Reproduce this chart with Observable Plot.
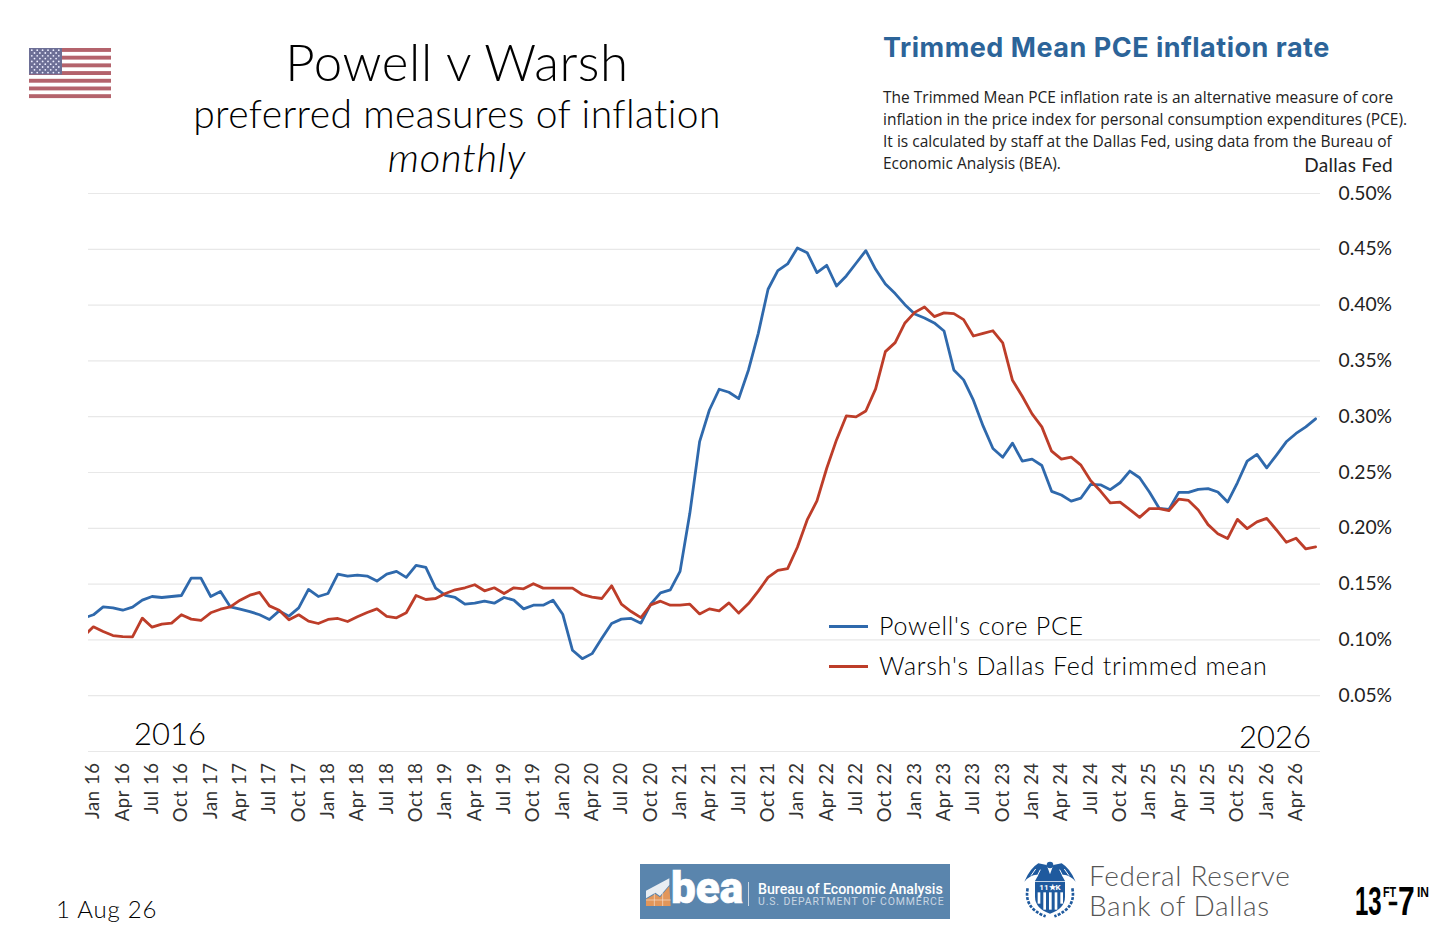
<!DOCTYPE html>
<html><head><meta charset="utf-8">
<script src="https://cdn.jsdelivr.net/npm/d3@7"></script>
<script src="https://cdn.jsdelivr.net/npm/@observablehq/plot@0.6"></script>
<style>
html,body{margin:0;padding:0;background:#fff;width:1456px;height:951px;overflow:hidden}
#chart{position:absolute;left:0;top:0}
#chart svg g[aria-label="x-axis tick label"] text{letter-spacing:.55px}
.t{position:absolute;white-space:nowrap;line-height:1;color:#111;font-family:Lato,sans-serif}
.c{transform:translateX(-50%)}
.r{transform:translateX(-100%)}
.k{position:absolute;height:3px}
svg.deco{position:absolute;overflow:visible}
</style></head><body>
<div id="chart"></div>
<script>
// First entry of each series is Dec 15, cut off by the left edge of the frame
const powellCorePCE=[0.1195,0.1225,0.1296,0.1287,0.1266,0.1293,0.1356,0.1389,0.138,0.1389,0.1398,0.1554,0.1554,0.1389,0.1434,0.1296,0.1275,0.1254,0.1225,0.1183,0.126,0.1213,0.1287,0.1452,0.1389,0.1416,0.159,0.1572,0.1581,0.1572,0.1527,0.159,0.1614,0.156,0.1668,0.165,0.1464,0.1398,0.138,0.132,0.1329,0.1347,0.1329,0.138,0.1356,0.1278,0.1311,0.1311,0.1356,0.123,0.0907,0.0832,0.0877,0.1015,0.1147,0.1186,0.1192,0.115,0.132,0.1422,0.1449,0.1614,0.2134,0.2777,0.306,0.3246,0.3219,0.3162,0.3419,0.3747,0.4142,0.4309,0.4369,0.4512,0.447,0.4291,0.4357,0.4171,0.4261,0.4375,0.4488,0.4321,0.4189,0.4103,0.4004,0.392,0.3885,0.384,0.3768,0.3419,0.333,0.3148,0.2915,0.2715,0.2637,0.2763,0.2602,0.262,0.2563,0.2331,0.2298,0.2244,0.2271,0.2393,0.239,0.2346,0.2408,0.2513,0.2453,0.2325,0.2179,0.217,0.2322,0.2322,0.2349,0.2355,0.2325,0.2235,0.2408,0.2602,0.2662,0.2542,0.2656,0.2775,0.285,0.2909,0.2981];
const warshTrimmedMean=[0.1033,0.1117,0.1075,0.1039,0.103,0.1027,0.1195,0.1114,0.1141,0.115,0.1225,0.1186,0.1174,0.1243,0.1275,0.1296,0.1356,0.1401,0.1425,0.1305,0.1266,0.118,0.1225,0.1168,0.1147,0.1183,0.1192,0.1165,0.1207,0.1246,0.1278,0.121,0.1198,0.1243,0.1398,0.1362,0.1371,0.1416,0.1449,0.1467,0.1494,0.144,0.1467,0.1416,0.1467,0.1458,0.1503,0.1464,0.1464,0.1464,0.1464,0.1407,0.1383,0.1371,0.1485,0.132,0.1254,0.12,0.1314,0.1347,0.1311,0.1311,0.132,0.1233,0.1278,0.126,0.1332,0.124,0.1326,0.1437,0.156,0.1623,0.1638,0.183,0.2075,0.2245,0.2538,0.2792,0.3007,0.2998,0.3051,0.3249,0.3583,0.3664,0.384,0.3935,0.3983,0.3897,0.393,0.3924,0.387,0.3723,0.3747,0.377,0.3662,0.3326,0.3183,0.3025,0.2909,0.2691,0.262,0.2638,0.2566,0.2426,0.2334,0.2227,0.2235,0.2167,0.2098,0.2176,0.2176,0.2158,0.2262,0.225,0.2164,0.2033,0.1952,0.1908,0.208,0.1997,0.2057,0.2089,0.1985,0.1875,0.1911,0.1815,0.1833];
const tickLabels=["Jan 16","Apr 16","Jul 16","Oct 16","Jan 17","Apr 17","Jul 17","Oct 17","Jan 18","Apr 18","Jul 18","Oct 18","Jan 19","Apr 19","Jul 19","Oct 19","Jan 20","Apr 20","Jul 20","Oct 20","Jan 21","Apr 21","Jul 21","Oct 21","Jan 22","Apr 22","Jul 22","Oct 22","Jan 23","Apr 23","Jul 23","Oct 23","Jan 24","Apr 24","Jul 24","Oct 24","Jan 25","Apr 25","Jul 25","Oct 25","Jan 26","Apr 26"];
const yTicks=[0.05,0.10,0.15,0.20,0.25,0.30,0.35,0.40,0.45,0.50];
const gridValues=[0,...yTicks];

const row=(v,i)=>({m:i-1,v});
const plot=Plot.plot({
  width:1456,height:951,
  marginLeft:88,marginRight:136,marginTop:193,marginBottom:200,
  style:{background:"transparent",fontFamily:"Lato,sans-serif",overflow:"visible"},
  x:{type:"linear",domain:[-0.5,125.5]},
  y:{type:"linear",domain:[0,0.5]},
  marks:[
    Plot.gridY(gridValues,{stroke:"#e8e8e8",strokeOpacity:1,strokeWidth:1.2}),
    Plot.axisY(yTicks,{anchor:"right",tickSize:0,tickPadding:18,fontSize:19.3,fill:"#222",label:null,tickFormat:d=>d.toFixed(2)+"%"}),
    Plot.axisX(tickLabels.map((_,i)=>i*3),{anchor:"bottom",tickSize:0,tickPadding:11,tickRotate:-90,fontSize:18.5,fill:"#333",label:null,tickFormat:d=>tickLabels[d/3]}),
    Plot.line(powellCorePCE.map(row),{x:"m",y:"v",stroke:"#2f69ac",strokeWidth:2.8,clip:true}),
    Plot.line(warshTrimmedMean.map(row),{x:"m",y:"v",stroke:"#bd3d29",strokeWidth:2.8,clip:true})
  ]
});
document.getElementById("chart").append(plot);

const add=(txt,left,top,size,extra="",cls="")=>{const d=document.createElement("div");d.className="t "+cls;d.style.cssText=`left:${left}px;top:${top}px;font-size:${size}px;${extra}`;d.textContent=txt;document.body.append(d);return d;};
add("Powell v Warsh",457,36,51,"font-weight:300;color:#000;letter-spacing:.6px","c");
add("preferred measures of inflation",457,94,39,"font-weight:300;color:#000;letter-spacing:.4px","c");
add("monthly",457,137,40,"font-weight:300;font-style:italic;color:#000;letter-spacing:.7px","c");
add("Trimmed Mean PCE inflation rate",883,34,27,"font-family:Inter;font-weight:700;color:#2c6499;letter-spacing:.5px");
["The Trimmed Mean PCE inflation rate is an alternative measure of core","inflation in the price index for personal consumption expenditures (PCE).","It is calculated by staff at the Dallas Fed, using data from the Bureau of","Economic Analysis (BEA)."].forEach((s,i)=>add(s,883,89.5+i*22,15.5,"font-family:'Open Sans';color:#222"));
add("Dallas Fed",1393,155,19,"color:#222;letter-spacing:.3px","r");
add("2016",134,718,31,"font-weight:300;color:#000");
add("2026",1239,721,31,"font-weight:300;color:#000");
add("1 Aug 26",56,897,24,"font-weight:300;color:#000;letter-spacing:.8px");
[["Powell's core PCE","#2f69ac",626],["Warsh's Dallas Fed trimmed mean","#bd3d29",666]].forEach(([s,col,y])=>{
  const k=document.createElement("div");k.className="k";k.style.cssText=`left:829px;top:${y-1}px;width:39px;background:${col}`;document.body.append(k);
  add(s,879,y-13,25,"font-weight:300;color:#000;letter-spacing:.75px");
});

// Flag
(function(){
  const s=d3.select("body").append("svg").attr("class","deco").style("left","29px").style("top","48px").attr("width",82).attr("height",49);
  for(let i=0;i<7;i++)s.append("rect").attr("x",0).attr("y",i*7.7).attr("width",82).attr("height",3.9).attr("fill","#b4636c");
  s.append("rect").attr("width",33).attr("height",26.5).attr("fill","#6d6f96");
  for(let r=0;r<9;r++)for(let c=0;c<(r%2?5:6);c++)s.append("circle").attr("cx",2.8+c*5.4+(r%2?2.7:0)).attr("cy",2.2+r*2.8).attr("r",0.9).attr("fill","#eef");
})();

// BEA logo
(function(){
  const b=document.createElement("div");b.style.cssText="position:absolute;left:640px;top:864px;width:310px;height:55px;background:#5a85ad";document.body.append(b);
  const s=d3.select("body").append("svg").attr("class","deco").style("left","636px").style("top","860px").attr("width",120).attr("height",62).attr("viewBox","0 0 360 186");
  s.append("polygon").attr("points","30,92 100,55 100,75 72,108 58,98 30,115").attr("fill","#e9eef3");
  s.append("polygon").attr("points","30,118 58,102 72,112 100,78 104,138 30,138").attr("fill","#e2965a");
  s.append("path").attr("d","M30 120H104M55 100V138M80 95V138").attr("stroke","#f6e2d2").attr("stroke-width",2).attr("fill","none");
  add("bea",671,866,44,"font-family:Roboto;font-weight:900;color:#fff;-webkit-text-stroke:.6px #fff");
  b.insertAdjacentHTML("beforeend",'<div style="position:absolute;left:108px;top:18px;width:1px;height:24px;background:#cbd8e4"></div>');
  add("Bureau of Economic Analysis",758,882,14.2,"font-family:Roboto;font-weight:500;color:#fff;line-height:14px");
  add("U.S. DEPARTMENT OF COMMERCE",758,896.5,10.5,"font-family:Roboto;color:#c9d6e2;letter-spacing:.85px");
})();

// Dallas Fed seal and name
(function(){
  const blue="#1f5a9e";
  const s=d3.select("body").append("svg").attr("class","deco").style("left","1015px").style("top","855px").attr("width",70).attr("height",70).attr("viewBox","0 0 210 210");
  s.append("path").attr("d","M105 58L95 30L70 25Q45 40 28 80Q50 56 70 60L60 78H150L140 60Q160 56 182 80Q165 40 140 25L115 30Z").attr("fill",blue);
  s.append("circle").attr("cx",105).attr("cy",30).attr("r",10).attr("fill",blue);
  s.append("path").attr("d","M62 42L48 62M76 44L66 64M148 42L162 62M134 44L144 64").attr("stroke","#fff").attr("stroke-width",3);
  s.append("path").attr("d","M60 80H150V125Q150 160 105 176Q60 160 60 125Z").attr("fill",blue);
  for(let i=0;i<5;i++)s.append("rect").attr("x",68+i*17).attr("y",112).attr("width",8).attr("height",i==0||i==4?34:52).attr("fill","#fff");
  s.append("text").attr("x",105).attr("y",104).attr("text-anchor","middle").attr("font-size",24).attr("font-family","Roboto").attr("font-weight",700).attr("fill","#fff").text("11★K");
  s.append("path").attr("d","M38 100Q26 160 92 184M172 100Q184 160 118 184").attr("stroke",blue).attr("stroke-width",8).attr("stroke-dasharray","9 4").attr("fill","none");
  add("Federal Reserve",1089,860.5,28,"font-weight:300;color:#555;letter-spacing:.65px");
  add("Bank of Dallas",1089,890.5,28,"font-weight:300;color:#555;letter-spacing:.65px");
})();

// 13FT-7IN mark
const mark="font-family:'Liberation Sans';font-weight:700;color:#000;transform-origin:left;";
add("13",1355,886,40,mark+"line-height:30px;transform:scaleX(.6)");
add("FT",1383,886,15,mark+"line-height:11px;transform:scaleX(.72)");
add("-",1388,898,24,mark+"line-height:8px;transform:scaleX(1.25);-webkit-text-stroke:.6px #000");
add("7",1398,886,40,mark+"line-height:30px;transform:scaleX(.75)");
add("IN",1417,886,15,mark+"line-height:11px;transform:scaleX(.8)");
</script>
</body></html>
